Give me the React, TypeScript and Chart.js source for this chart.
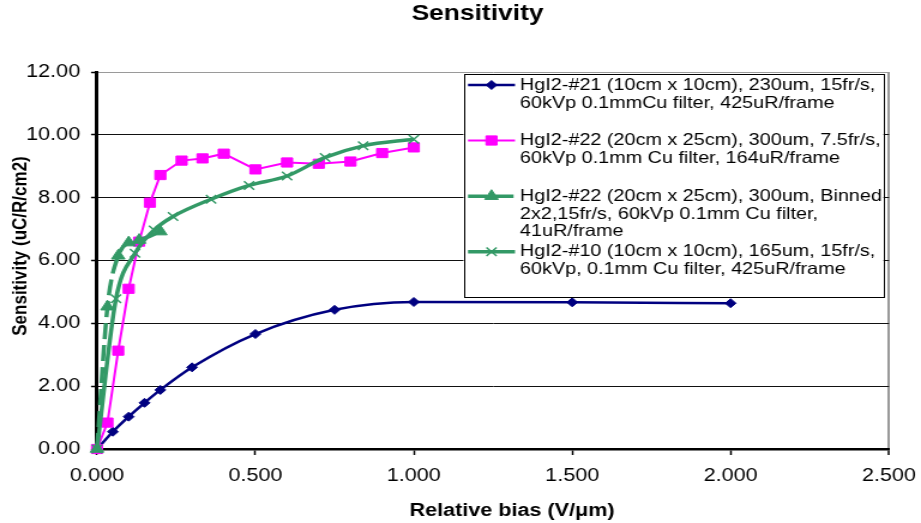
import React, { useEffect, useRef } from 'react';
import { Chart, registerables } from 'chart.js';
import { drawPoint } from 'chart.js/helpers';

Chart.register(...registerables);

// ---------- data ----------
const TITLE = 'Sensitivity';
const X_TITLE = 'Relative bias (V/μm)';
const Y_TITLE = 'Sensitivity (uC/R/cm2)';

const LEGEND_LINES: string[][] = [
  ['HgI2-#21 (10cm x 10cm), 230um, 15fr/s,', '60kVp 0.1mmCu filter, 425uR/frame'],
  ['HgI2-#22 (20cm x 25cm), 300um, 7.5fr/s,', '60kVp 0.1mm Cu filter, 164uR/frame'],
  ['HgI2-#22 (20cm x 25cm), 300um, Binned', '2x2,15fr/s, 60kVp 0.1mm Cu filter,', '41uR/frame'],
  ['HgI2-#10 (10cm x 10cm), 165um, 15fr/s,', '60kVp, 0.1mm Cu filter, 425uR/frame'],
];

const s21X = [0, 0.05, 0.1, 0.15, 0.2, 0.3, 0.5, 0.75, 1.0, 1.5, 2.0];
const s21Y = [0, 0.55, 1.03, 1.47, 1.88, 2.6, 3.66, 4.43, 4.68, 4.67, 4.64];

const s22X = [0, 0.033, 0.067, 0.1, 0.133, 0.167, 0.2, 0.267, 0.333, 0.4, 0.5, 0.6, 0.7, 0.8, 0.9, 1.0];
const s22Y = [0, 0.84, 3.13, 5.1, 6.6, 7.84, 8.72, 9.18, 9.25, 9.4, 8.9, 9.12, 9.08, 9.15, 9.42, 9.6];

const s22bX = [0, 0.033, 0.067, 0.1, 0.133, 0.2];
const s22bY = [0, 4.53, 6.15, 6.57, 6.65, 6.92];

const s10X = [0, 0.06, 0.12, 0.18, 0.24, 0.36, 0.48, 0.6, 0.72, 0.84, 1.0];
const s10Y = [0, 4.78, 6.23, 6.97, 7.4, 7.95, 8.39, 8.69, 9.28, 9.65, 9.86];

const X_MIN = 0, X_MAX = 2.5, X_STEP = 0.5;
const Y_MIN = 0, Y_MAX = 12, Y_STEP = 2;

// ---------- styling ----------
const FONT = '"Liberation Sans", Arial, Helvetica, sans-serif';
const NAVY = '#000080';
const MAGENTA = '#FF00FF';
const GREEN = '#339966';

const CANVAS_W = 768;
const CANVAS_H = 523;
const SX = 921 / CANVAS_W; // horizontal stretch of the reference picture

const toPts = (xs: number[], ys: number[]) => xs.map((x, i) => ({ x, y: ys[i] }));

const legendPlugin = {
  id: 'boxLegend',
  afterDraw(chart: any) {
    const ctx: CanvasRenderingContext2D = chart.ctx;
    const L = 463.5 / SX, R = 883.5 / SX, T = 74, B = 296.5;
    const symL = 468 / SX, symR = 515 / SX, symM = 491.5 / SX, textX = 520 / SX;
    const lineYs = [[85, 103], [140.5, 158.3], [196.2, 214, 231.7], [251.7, 269.5]];
    ctx.save();
    ctx.fillStyle = '#fff';
    ctx.fillRect(L, T, R - L, B - T);
    ctx.strokeStyle = '#000';
    ctx.lineWidth = 1;
    ctx.setLineDash([]);
    ctx.strokeRect(Math.round(L) + 0.5, Math.round(T) + 0.5, Math.round(R - L), Math.round(B - T));
    chart.data.datasets.forEach((ds: any, i: number) => {
      const ys = lineYs[i];
      const y = ys[0];
      ctx.save();
      ctx.strokeStyle = ds.borderColor;
      ctx.lineWidth = ds.borderWidth;
      ctx.setLineDash(ds.borderDash || []);
      ctx.beginPath();
      ctx.moveTo(symL, y);
      ctx.lineTo(symR, y);
      ctx.stroke();
      ctx.setLineDash([]);
      ctx.fillStyle = ds.pointBackgroundColor;
      ctx.strokeStyle = ds.pointBorderColor;
      ctx.lineWidth = ds.pointBorderWidth;
      drawPoint(ctx, { pointStyle: ds.pointStyle, radius: ds.pointRadius, rotation: 0, borderWidth: ds.pointBorderWidth } as any, symM, y);
      ctx.restore();
      ctx.fillStyle = '#000';
      ctx.font = `16.5px ${FONT}`;
      ctx.textBaseline = 'middle';
      ctx.textAlign = 'left';
      LEGEND_LINES[i].forEach((t, j) => ctx.fillText(t, textX, ys[j]));
    });
    ctx.restore();
  },
};

// shift the library-drawn titles to where the reference has them
const TITLE_SHIFT: Record<string, [number, number]> = { x: [15.9, 0], y: [0, -14.5] };
const titleShiftPlugin = {
  id: 'titleShift',
  afterLayout(chart: any) {
    const tb = chart.titleBlock;
    if (tb) {
      tb.left = 0;
      tb.right = 2 * (477.5 / SX);
    }
    Object.keys(TITLE_SHIFT).forEach((id) => {
      const scale = chart.scales[id];
      if (!scale || scale._titleShifted) return;
      const orig = scale.drawTitle;
      const [dx, dy] = TITLE_SHIFT[id];
      scale.drawTitle = function (...args: any[]) {
        const c = this.ctx;
        c.save();
        c.translate(dx, dy);
        orig.apply(this, args);
        c.restore();
      };
      scale._titleShifted = true;
    });
  },
};

export default function App() {
  const ref = useRef<HTMLCanvasElement>(null);

  useEffect(() => {
    document.body.style.margin = '0';
    const canvas = ref.current;
    if (!canvas) return;
    const chart = new Chart(canvas, {
      type: 'line',
      data: {
        datasets: [
          {
            label: LEGEND_LINES[0].join(' '),
            data: toPts(s21X, s21Y),
            borderColor: NAVY,
            backgroundColor: NAVY,
            borderWidth: 2.5,
            pointStyle: 'rectRot',
            pointRadius: 4.5,
            pointBackgroundColor: NAVY,
            pointBorderColor: NAVY,
            pointBorderWidth: 1,
            cubicInterpolationMode: 'monotone',
            order: 3,
            clip: false,
          } as any,
          {
            label: LEGEND_LINES[1].join(' '),
            data: toPts(s22X, s22Y),
            borderColor: MAGENTA,
            backgroundColor: MAGENTA,
            borderWidth: 2,
            pointStyle: 'rect',
            pointRadius: 6.5,
            pointBackgroundColor: MAGENTA,
            pointBorderColor: MAGENTA,
            pointBorderWidth: 1,
            tension: 0,
            order: 2,
            clip: false,
          },
          {
            label: LEGEND_LINES[2].join(' '),
            data: toPts(s22bX, s22bY),
            borderColor: GREEN,
            backgroundColor: GREEN,
            borderWidth: 3.5,
            borderDash: [16, 6],
            pointStyle: 'triangle',
            pointRadius: 6.5,
            pointBackgroundColor: GREEN,
            pointBorderColor: GREEN,
            pointBorderWidth: 1,
            cubicInterpolationMode: 'monotone',
            order: 1,
            clip: false,
          } as any,
          {
            label: LEGEND_LINES[3].join(' '),
            data: toPts(s10X, s10Y),
            borderColor: GREEN,
            backgroundColor: GREEN,
            borderWidth: 3.5,
            pointStyle: 'crossRot',
            pointRadius: 6,
            pointBackgroundColor: GREEN,
            pointBorderColor: GREEN,
            pointBorderWidth: 1.5,
            cubicInterpolationMode: 'monotone',
            order: 0,
            clip: false,
          } as any,
        ],
      },
      options: {
        responsive: false,
        animation: false,
        events: [],
        layout: { padding: { left: 0, right: CANVAS_W - 889 / SX, top: 0, bottom: 0 } },
        font: { family: FONT },
        plugins: {
          legend: { display: false },
          tooltip: { enabled: false },
          title: {
            display: true,
            text: TITLE,
            color: '#000',
            font: { family: FONT, size: 22, weight: 'bold' },
            padding: { top: 1, bottom: 44.6 },
          },
        },
        scales: {
          x: {
            type: 'linear',
            min: X_MIN,
            max: X_MAX,
            ticks: {
              stepSize: X_STEP,
              autoSkip: false,
              maxRotation: 0,
              padding: 0,
              color: '#000',
              font: { family: FONT, size: 18, lineHeight: 2.3 },
              callback: (v: any) => Number(v).toFixed(3),
            },
            grid: {
              drawOnChartArea: true,
              color: (c: any) => (c.tick && c.tick.value === X_MAX ? '#9a9a9a' : 'rgba(0,0,0,0)'),
              lineWidth: (c: any) => (c.tick && c.tick.value === X_MAX ? 2 : 1),
              tickColor: '#000',
              tickLength: 6,
              tickWidth: 1.5,
            },
            border: { display: true, color: '#000', width: 2.5 },
            title: {
              display: true,
              text: X_TITLE,
              color: '#000',
              font: { family: FONT, size: 18, weight: 'bold' },
              padding: { top: 0, bottom: 1 },
            },
            afterFit: (s: any) => {
              s.height = CANVAS_H - 449;
            },
          },
          y: {
            type: 'linear',
            min: Y_MIN,
            max: Y_MAX,
            ticks: {
              stepSize: Y_STEP,
              padding: 9,
              color: '#000',
              font: { family: FONT, size: 18 },
              callback: (v: any) => Number(v).toFixed(2),
            },
            grid: {
              color: (c: any) => (c.tick && c.tick.value === Y_MAX ? '#9a9a9a' : '#111'),
              lineWidth: 1,
              tickColor: '#000',
              tickLength: 5,
              tickWidth: 1.5,
            },
            border: { display: true, color: '#000', width: 3 },
            title: {
              display: true,
              text: Y_TITLE,
              color: '#000',
              font: { family: FONT, size: 17, weight: 'bold' },
              padding: { top: 7, bottom: 0 },
            },
            afterFit: (s: any) => {
              s.width = 97 / SX;
            },
          },
        },
      } as any,
      plugins: [titleShiftPlugin, legendPlugin],
    });
    return () => chart.destroy();
  }, []);

  return (
    <div style={{ width: 921, height: 523, overflow: 'hidden', background: '#fff' }}>
      <canvas
        ref={ref}
        width={CANVAS_W}
        height={CANVAS_H}
        style={{
          display: 'block',
          width: CANVAS_W,
          height: CANVAS_H,
          transform: `scale(${SX}, 1)`,
          transformOrigin: '0 0',
        }}
      />
    </div>
  );
}
